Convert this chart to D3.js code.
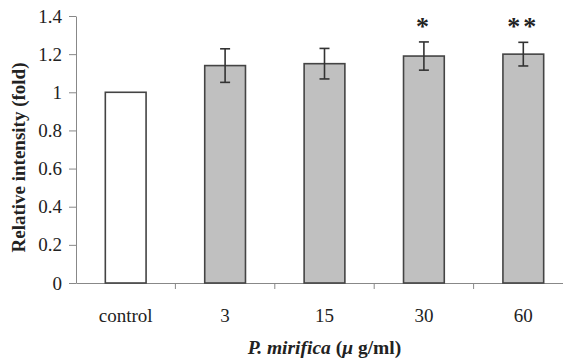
<!DOCTYPE html>
<html>
<head>
<meta charset="utf-8">
<script src="https://cdn.jsdelivr.net/npm/d3@7"></script>
<style>
  body { margin: 0; background: #fff; }
  svg { display: block; }
  text { font-family: "Liberation Serif", "Times New Roman", serif; fill: #222; }
</style>
</head>
<body>
<svg id="chart" width="563" height="360"></svg>
<script>
// values
const categories = ['control', '3', '15', '30', '60']
const means = [1.0, 1.14, 1.15, 1.19, 1.20]
const errors = [0, 0.088, 0.08, 0.074, 0.062]
const marks = ['', '', '', '*', '**']
const yTicks = [0, 0.2, 0.4, 0.6, 0.8, 1, 1.2, 1.4]

const svg = d3.select('#chart')

const plotLeft = 76, plotRight = 573, plotTop = 16, plotBottom = 283

const x = d3.scaleBand().domain(categories).range([plotLeft, plotRight]).padding(0)
const y = d3.scaleLinear().domain([0, 1.4]).range([plotBottom, plotTop])

const barW = x.bandwidth() * 0.41

// y axis
svg.append('g')
    .attr('transform', `translate(${plotLeft},0)`)
    .call(d3.axisLeft(y).tickValues(yTicks).tickSizeInner(7).tickSizeOuter(0).tickPadding(7)
        .tickFormat(d => +d.toFixed(1)))
    .call(g => g.selectAll('path, line').attr('stroke', '#888'))
    .call(g => g.selectAll('text').attr('font-size', 19).attr('fill', '#222')
        .attr('font-family', '"Liberation Serif", serif'))

// x axis: labels from axis, ticks at band edges
svg.append('g')
    .attr('transform', `translate(0,${plotBottom})`)
    .call(d3.axisBottom(x).tickSizeInner(0).tickSizeOuter(0).tickPadding(26))
    .call(g => g.select('.domain').attr('stroke', '#888'))
    .call(g => g.selectAll('text').attr('font-size', 19).attr('fill', '#222')
        .attr('font-family', '"Liberation Serif", serif'))

svg.append('g')
    .selectAll('line')
    .data(categories.slice(1))
    .enter().append('line')
    .attr('x1', d => x(d)).attr('x2', d => x(d))
    .attr('y1', plotBottom).attr('y2', plotBottom + 6)
    .attr('stroke', '#888')

// bars
svg.append('g')
    .selectAll('rect')
    .data(categories)
    .enter().append('rect')
    .attr('x', d => x(d) + (x.bandwidth() - barW) / 2)
    .attr('width', barW)
    .attr('y', (d, i) => y(means[i]))
    .attr('height', (d, i) => plotBottom - y(means[i]))
    .attr('fill', (d, i) => i === 0 ? '#fff' : '#c0c0c0')
    .attr('stroke', '#444')
    .attr('stroke-width', 1.6)

// error bars
const err = svg.append('g').attr('stroke', '#333').attr('stroke-width', 1.6)
categories.forEach((c, i) => {
    if (!errors[i]) return
    const cx = x(c) + x.bandwidth() / 2
    const y1 = y(means[i] + errors[i]), y2 = y(means[i] - errors[i])
    err.append('line').attr('x1', cx).attr('x2', cx).attr('y1', y1).attr('y2', y2)
    err.append('line').attr('x1', cx - 5).attr('x2', cx + 5).attr('y1', y1).attr('y2', y1)
    err.append('line').attr('x1', cx - 5).attr('x2', cx + 5).attr('y1', y2).attr('y2', y2)
})

// significance marks
svg.append('g')
    .selectAll('text')
    .data(categories)
    .enter().append('text')
    .attr('x', d => x(d) + x.bandwidth() / 2)
    .attr('y', (d, i) => y(means[i] + errors[i]) - 7)
    .attr('text-anchor', 'middle')
    .attr('font-size', 26)
    .attr('font-weight', 'bold')
    .attr('letter-spacing', 3)
    .attr('fill', '#333')
    .text((d, i) => marks[i])

// axis titles
svg.append('text')
    .attr('transform', `translate(25,${(plotTop + plotBottom) / 2 + 8}) rotate(-90)`)
    .attr('text-anchor', 'middle')
    .attr('font-size', 19)
    .attr('font-weight', 'bold')
    .text('Relative intensity (fold)')

const xt = svg.append('text')
    .attr('x', (plotLeft + plotRight) / 2)
    .attr('y', 354)
    .attr('text-anchor', 'middle')
    .attr('font-size', 19.5)
    .attr('font-weight', 'bold')
xt.append('tspan').attr('font-style', 'italic').text('P. mirifica')
xt.append('tspan').text('  (')
xt.append('tspan').attr('font-style', 'italic').text('μ')
xt.append('tspan').text(' g/ml)')
</script>
</body>
</html>
